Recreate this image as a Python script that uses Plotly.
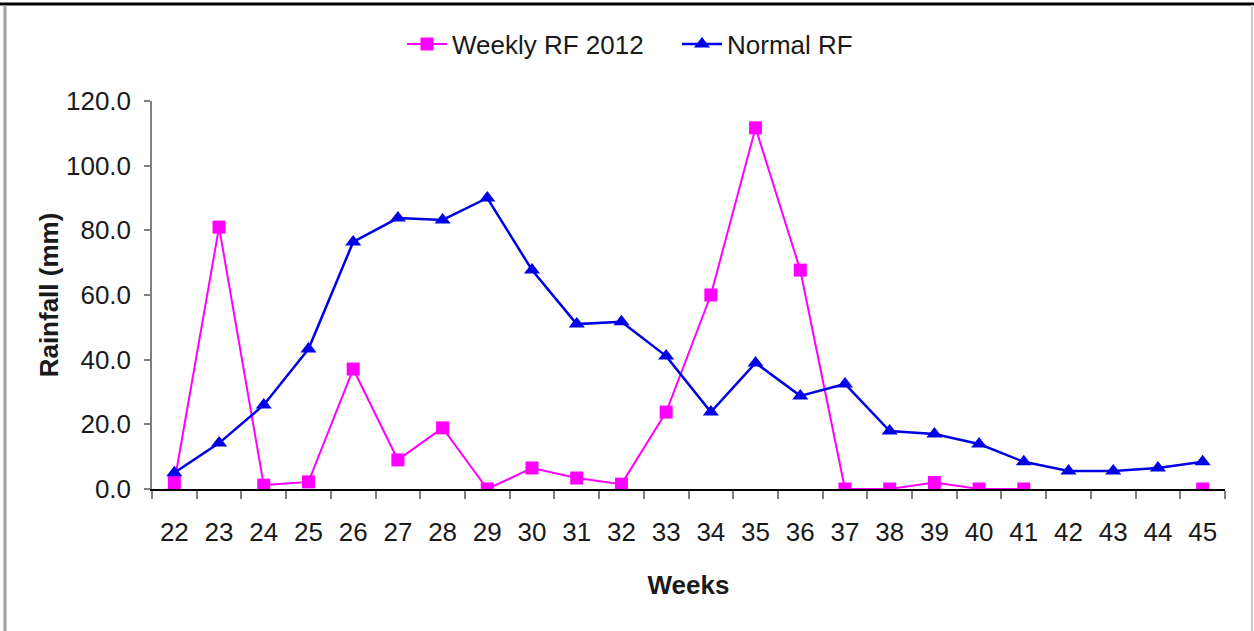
import plotly.graph_objects as go

weeks = [str(w) for w in range(22, 46)]
weekly_rf_2012 = [2.0, 81.0, 1.2, 2.2, 37.1, 9.0, 18.9, 0.0, 6.5, 3.4, 1.5, 23.8,
                  60.0, 111.7, 67.7, 0.0, 0.0, 2.0, 0.0, 0.0, None, None, None, 0.0]
normal_rf = [5.0, 14.2, 26.0, 43.3, 76.4, 83.8, 83.2, 90.0, 67.7, 51.0, 51.7, 41.1,
             23.8, 39.0, 28.8, 32.5, 17.9, 17.0, 13.9, 8.4, 5.6, 5.6, 6.5, 8.4]
y_ticks = [0, 20, 40, 60, 80, 100, 120]

W, H = 1254, 631
L, R, T, B = 152, 29, 101, 142
pw, ph = W - L - R, H - T - B

FONT = "Liberation Sans, Arial, sans-serif"

fig = go.Figure()
fig.add_trace(go.Scatter(
    x=weeks, y=weekly_rf_2012, name="Weekly RF 2012", mode="lines+markers",
    line=dict(color="#FF00FF", width=2),
    marker=dict(symbol="square", size=13, color="#FF00FF"),
    connectgaps=False,
))
fig.add_trace(go.Scatter(
    x=weeks, y=normal_rf, name="Normal RF", mode="lines+markers",
    line=dict(color="#0000E6", width=2.5),
    marker=dict(symbol="triangle-up", size=14, color="#0000E6"),
))

def px_x(x):
    return (x - L) / pw

def px_y(y):
    return (H - B - y) / ph

shapes = [
    dict(type="line", xref="paper", yref="paper", x0=px_x(0), x1=px_x(W), y0=px_y(4), y1=px_y(4),
         line=dict(color="black", width=3)),
    dict(type="line", xref="paper", yref="paper", x0=px_x(5), x1=px_x(5), y0=px_y(5), y1=px_y(H),
         line=dict(color="#A0A0A0", width=3)),
    dict(type="line", xref="paper", yref="paper", x0=px_x(1252), x1=px_x(1252), y0=px_y(5), y1=px_y(H),
         line=dict(color="#C8C8C8", width=2)),
]

fig.update_layout(
    width=W, height=H,
    margin=dict(l=L, r=R, t=T, b=B, autoexpand=False),
    paper_bgcolor="white", plot_bgcolor="white",
    font=dict(family=FONT, size=26, color="#1a1a1a"),
    showlegend=True,
    legend=dict(orientation="h", x=px_x(402), xanchor="left", y=px_y(44), yanchor="middle",
                font=dict(size=26), itemwidth=40, entrywidth=220, tracegroupgap=0,
                bgcolor="rgba(0,0,0,0)"),
    shapes=shapes,
)
fig.update_xaxes(
    type="category", range=[-0.5, 23.5], showgrid=False, zeroline=False,
    showline=True, linecolor="#000000", linewidth=1.5,
    ticks="outside", tickson="boundaries", ticklen=8, tickcolor="#808080", tickwidth=1.5,
    ticklabelstandoff=19, tickfont=dict(size=26),
    title=dict(text="<b>Weeks</b>", font=dict(size=26), standoff=30),
)
fig.update_yaxes(
    range=[0, 120], tickvals=y_ticks, tickformat=".1f", showgrid=False, zeroline=False,
    showline=True, linecolor="#808080", linewidth=1.5,
    ticks="outside", ticklen=6, tickcolor="#808080", tickwidth=1.5,
    ticklabelstandoff=8, tickfont=dict(size=26),
    title=dict(text="<b>Rainfall (mm)</b>", font=dict(size=26), standoff=0),
)

fig.write_html("out.html", config={"displayModeBar": False},
               post_script="document.body.style.margin='0px';")
